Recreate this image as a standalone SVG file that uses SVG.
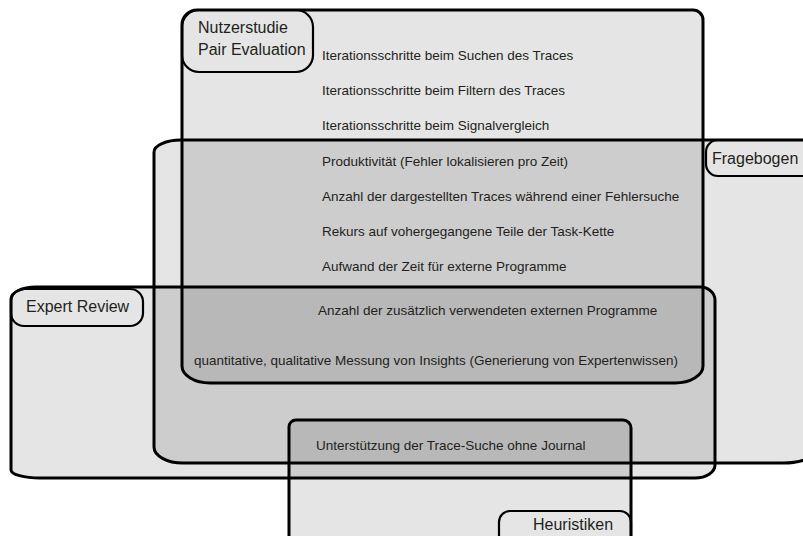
<svg xmlns="http://www.w3.org/2000/svg" width="803" height="536" viewBox="0 0 803 536">
  <style>
    .region { fill: #000; fill-opacity: 0.1; stroke: #000; stroke-width: 3; stroke-linejoin: round; }
    .tag { fill: none; stroke: #000; stroke-width: 2.2; }
    .tagtext { font-family: "Liberation Sans", Arial, sans-serif; font-size: 16px; fill: #231f20; }
    .item { font-family: "Liberation Sans", Arial, sans-serif; font-size: 13.5px; fill: #231f20; }
  </style>
  <rect width="803" height="536" fill="#fff"/>

  <!-- User study / pair evaluation -->
  <g id="nutzerstudie">
    <path class="region" d="M 197 10 H 693 A 10 10 0 0 1 703 20 V 366 A 28 17 0 0 1 675 383 H 210 A 28 17 0 0 1 182 366 V 25 A 15 15 0 0 1 197 10 Z"/>
    <rect class="tag" x="182" y="10" width="131" height="62" rx="17"/>
    <text class="tagtext" x="198" y="33">Nutzerstudie</text>
    <text class="tagtext" x="198" y="55">Pair Evaluation</text>
  </g>

  <!-- Questionnaire -->
  <g id="fragebogen">
    <path class="region" d="M 181 140 H 815 V 451 A 32 12 0 0 1 783 463 H 183 A 29 16 0 0 1 154 447 V 152 A 27 12 0 0 1 181 140 Z"/>
    <rect class="tag" x="706" y="140" width="110" height="36" rx="12"/>
    <text class="tagtext" x="712" y="164">Fragebogen</text>
  </g>

  <!-- Expert review -->
  <g id="expert-review">
    <path class="region" d="M 36 287 H 700 A 15 13 0 0 1 715 300 V 465 A 20 13 0 0 1 695 478 H 40 A 29 8 0 0 1 11 470 V 299 A 25 12 0 0 1 36 287 Z"/>
    <rect class="tag" x="11" y="289" width="132" height="37" rx="13"/>
    <text class="tagtext" x="26" y="312">Expert Review</text>
  </g>

  <!-- Heuristics -->
  <g id="heuristiken">
    <path class="region" d="M 296 420 H 623 A 8 8 0 0 1 631 428 V 545 H 289 V 427 A 7 7 0 0 1 296 420 Z"/>
    <rect class="tag" x="499" y="511" width="132" height="40" rx="11"/>
    <text class="tagtext" x="533" y="530">Heuristiken</text>
  </g>

  <!-- Measures placed in the overlapping areas -->
  <g id="items">
    <text class="item" x="322" y="60">Iterationsschritte beim Suchen des Traces</text>
    <text class="item" x="322" y="95">Iterationsschritte beim Filtern des Traces</text>
    <text class="item" x="322" y="130">Iterationsschritte beim Signalvergleich</text>
    <text class="item" x="322" y="166">Produktivität (Fehler lokalisieren pro Zeit)</text>
    <text class="item" x="322" y="201">Anzahl der dargestellten Traces während einer Fehlersuche</text>
    <text class="item" x="322" y="236">Rekurs auf vohergegangene Teile der Task-Kette</text>
    <text class="item" x="322" y="271">Aufwand der Zeit für externe Programme</text>
    <text class="item" x="318" y="315">Anzahl der zusätzlich verwendeten externen Programme</text>
    <text class="item" x="194" y="365">quantitative, qualitative Messung von Insights (Generierung von Expertenwissen)</text>
    <text class="item" x="316" y="450">Unterstützung der Trace-Suche ohne Journal</text>
  </g>
</svg>
